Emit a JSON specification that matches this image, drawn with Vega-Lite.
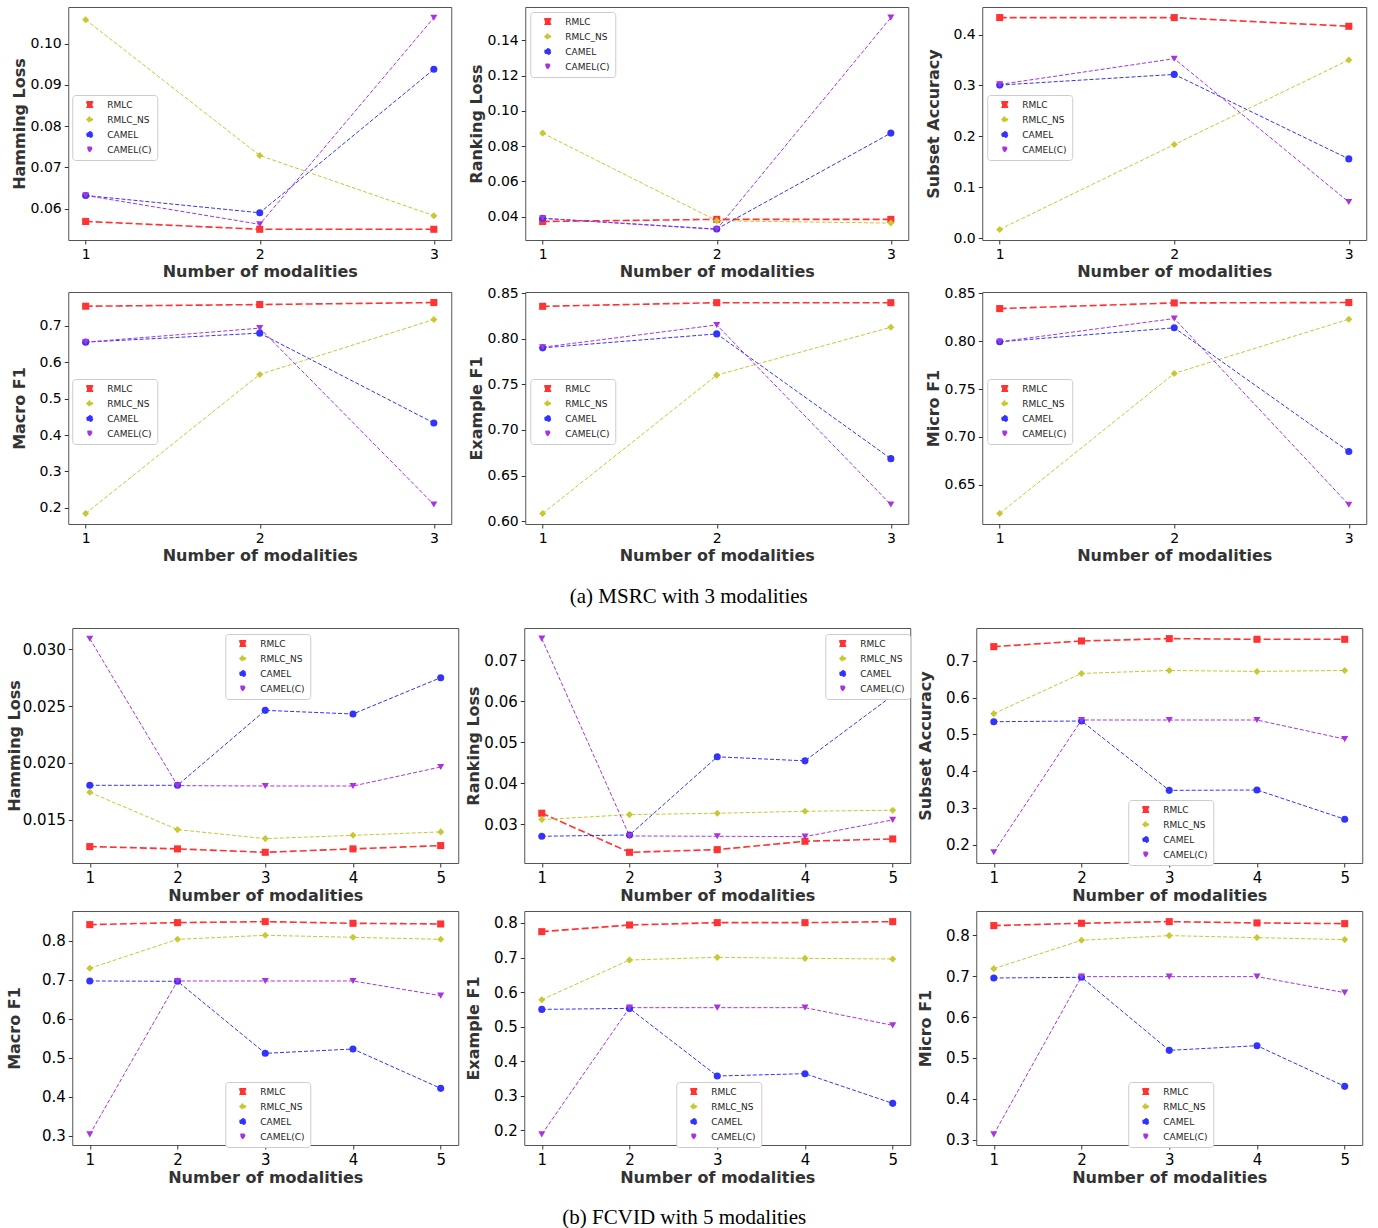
{
"$schema":"https://vega.github.io/schema/vega-lite/v6.json",
"padding":{"left":5,"top":6,"right":5,"bottom":0},
"datasets":{
"msrc":[
{"k":"HL","s":"RMLC","m":1,"v":0.0569},{"k":"HL","s":"RMLC","m":2,"v":0.0550},{"k":"HL","s":"RMLC","m":3,"v":0.0550},
{"k":"HL","s":"RMLC_NS","m":1,"v":0.1058},{"k":"HL","s":"RMLC_NS","m":2,"v":0.0729},{"k":"HL","s":"RMLC_NS","m":3,"v":0.0583},
{"k":"HL","s":"CAMEL","m":1,"v":0.0632},{"k":"HL","s":"CAMEL","m":2,"v":0.0590},{"k":"HL","s":"CAMEL","m":3,"v":0.0938},
{"k":"HL","s":"CAMEL(C)","m":1,"v":0.0632},{"k":"HL","s":"CAMEL(C)","m":2,"v":0.0562},{"k":"HL","s":"CAMEL(C)","m":3,"v":0.1063},
{"k":"RL","s":"RMLC","m":1,"v":0.0373},{"k":"RL","s":"RMLC","m":2,"v":0.0385},{"k":"RL","s":"RMLC","m":3,"v":0.0385},
{"k":"RL","s":"RMLC_NS","m":1,"v":0.0874},{"k":"RL","s":"RMLC_NS","m":2,"v":0.0377},{"k":"RL","s":"RMLC_NS","m":3,"v":0.0364},
{"k":"RL","s":"CAMEL","m":1,"v":0.0391},{"k":"RL","s":"CAMEL","m":2,"v":0.0330},{"k":"RL","s":"CAMEL","m":3,"v":0.0874},
{"k":"RL","s":"CAMEL(C)","m":1,"v":0.0391},{"k":"RL","s":"CAMEL(C)","m":2,"v":0.0328},{"k":"RL","s":"CAMEL(C)","m":3,"v":0.1529},
{"k":"SA","s":"RMLC","m":1,"v":0.4335},{"k":"SA","s":"RMLC","m":2,"v":0.4335},{"k":"SA","s":"RMLC","m":3,"v":0.4164},
{"k":"SA","s":"RMLC_NS","m":1,"v":0.0171},{"k":"SA","s":"RMLC_NS","m":2,"v":0.1839},{"k":"SA","s":"RMLC_NS","m":3,"v":0.3501},
{"k":"SA","s":"CAMEL","m":1,"v":0.3008},{"k":"SA","s":"CAMEL","m":2,"v":0.3218},{"k":"SA","s":"CAMEL","m":3,"v":0.1557},
{"k":"SA","s":"CAMEL(C)","m":1,"v":0.3021},{"k":"SA","s":"CAMEL(C)","m":2,"v":0.3527},{"k":"SA","s":"CAMEL(C)","m":3,"v":0.0709},
{"k":"MaF","s":"RMLC","m":1,"v":0.7539},{"k":"MaF","s":"RMLC","m":2,"v":0.7585},{"k":"MaF","s":"RMLC","m":3,"v":0.7640},
{"k":"MaF","s":"RMLC_NS","m":1,"v":0.1845},{"k":"MaF","s":"RMLC_NS","m":2,"v":0.5665},{"k":"MaF","s":"RMLC_NS","m":3,"v":0.7174},
{"k":"MaF","s":"CAMEL","m":1,"v":0.6552},{"k":"MaF","s":"CAMEL","m":2,"v":0.6799},{"k":"MaF","s":"CAMEL","m":3,"v":0.4331},
{"k":"MaF","s":"CAMEL(C)","m":1,"v":0.6552},{"k":"MaF","s":"CAMEL(C)","m":2,"v":0.6936},{"k":"MaF","s":"CAMEL(C)","m":3,"v":0.2091},
{"k":"ExF","s":"RMLC","m":1,"v":0.8354},{"k":"ExF","s":"RMLC","m":2,"v":0.8394},{"k":"ExF","s":"RMLC","m":3,"v":0.8394},
{"k":"ExF","s":"RMLC_NS","m":1,"v":0.6084},{"k":"ExF","s":"RMLC_NS","m":2,"v":0.7600},{"k":"ExF","s":"RMLC_NS","m":3,"v":0.8125},
{"k":"ExF","s":"CAMEL","m":1,"v":0.7899},{"k":"ExF","s":"CAMEL","m":2,"v":0.8052},{"k":"ExF","s":"CAMEL","m":3,"v":0.6685},
{"k":"ExF","s":"CAMEL(C)","m":1,"v":0.7906},{"k":"ExF","s":"CAMEL(C)","m":2,"v":0.8150},{"k":"ExF","s":"CAMEL(C)","m":3,"v":0.6182},
{"k":"MiF","s":"RMLC","m":1,"v":0.8340},{"k":"MiF","s":"RMLC","m":2,"v":0.8399},{"k":"MiF","s":"RMLC","m":3,"v":0.8403},
{"k":"MiF","s":"RMLC_NS","m":1,"v":0.6201},{"k":"MiF","s":"RMLC_NS","m":2,"v":0.7663},{"k":"MiF","s":"RMLC_NS","m":3,"v":0.8229},
{"k":"MiF","s":"CAMEL","m":1,"v":0.7993},{"k":"MiF","s":"CAMEL","m":2,"v":0.8139},{"k":"MiF","s":"CAMEL","m":3,"v":0.6847},
{"k":"MiF","s":"CAMEL(C)","m":1,"v":0.7993},{"k":"MiF","s":"CAMEL(C)","m":2,"v":0.8236},{"k":"MiF","s":"CAMEL(C)","m":3,"v":0.6292}
],
"fcvid":[
{"k":"HL","s":"RMLC","m":1,"v":0.01266},{"k":"HL","s":"RMLC","m":2,"v":0.01246},{"k":"HL","s":"RMLC","m":3,"v":0.01216},{"k":"HL","s":"RMLC","m":4,"v":0.01246},{"k":"HL","s":"RMLC","m":5,"v":0.01275},
{"k":"HL","s":"RMLC_NS","m":1,"v":0.01743},{"k":"HL","s":"RMLC_NS","m":2,"v":0.01415},{"k":"HL","s":"RMLC_NS","m":3,"v":0.01336},{"k":"HL","s":"RMLC_NS","m":4,"v":0.01365},{"k":"HL","s":"RMLC_NS","m":5,"v":0.01395},
{"k":"HL","s":"CAMEL","m":1,"v":0.01804},{"k":"HL","s":"CAMEL","m":2,"v":0.01804},{"k":"HL","s":"CAMEL","m":3,"v":0.02462},{"k":"HL","s":"CAMEL","m":4,"v":0.02430},{"k":"HL","s":"CAMEL","m":5,"v":0.02749},
{"k":"HL","s":"CAMEL(C)","m":1,"v":0.03091},{"k":"HL","s":"CAMEL(C)","m":2,"v":0.01801},{"k":"HL","s":"CAMEL(C)","m":3,"v":0.01798},{"k":"HL","s":"CAMEL(C)","m":4,"v":0.01798},{"k":"HL","s":"CAMEL(C)","m":5,"v":0.01965},
{"k":"RL","s":"RMLC","m":1,"v":0.0327},{"k":"RL","s":"RMLC","m":2,"v":0.02316},{"k":"RL","s":"RMLC","m":3,"v":0.02381},{"k":"RL","s":"RMLC","m":4,"v":0.02585},{"k":"RL","s":"RMLC","m":5,"v":0.02642},
{"k":"RL","s":"RMLC_NS","m":1,"v":0.03114},{"k":"RL","s":"RMLC_NS","m":2,"v":0.03236},{"k":"RL","s":"RMLC_NS","m":3,"v":0.03269},{"k":"RL","s":"RMLC_NS","m":4,"v":0.03318},{"k":"RL","s":"RMLC_NS","m":5,"v":0.03342},
{"k":"RL","s":"CAMEL","m":1,"v":0.02707},{"k":"RL","s":"CAMEL","m":2,"v":0.02739},{"k":"RL","s":"CAMEL","m":3,"v":0.04646},{"k":"RL","s":"CAMEL","m":4,"v":0.04548},{"k":"RL","s":"CAMEL","m":5,"v":0.06145},
{"k":"RL","s":"CAMEL(C)","m":1,"v":0.0753},{"k":"RL","s":"CAMEL(C)","m":2,"v":0.02715},{"k":"RL","s":"CAMEL(C)","m":3,"v":0.02707},{"k":"RL","s":"CAMEL(C)","m":4,"v":0.02699},{"k":"RL","s":"CAMEL(C)","m":5,"v":0.03106},
{"k":"SA","s":"RMLC","m":1,"v":0.7383},{"k":"SA","s":"RMLC","m":2,"v":0.7537},{"k":"SA","s":"RMLC","m":3,"v":0.7601},{"k":"SA","s":"RMLC","m":4,"v":0.7583},{"k":"SA","s":"RMLC","m":5,"v":0.7583},
{"k":"SA","s":"RMLC_NS","m":1,"v":0.5561},{"k":"SA","s":"RMLC_NS","m":2,"v":0.6654},{"k":"SA","s":"RMLC_NS","m":3,"v":0.6736},{"k":"SA","s":"RMLC_NS","m":4,"v":0.6709},{"k":"SA","s":"RMLC_NS","m":5,"v":0.6736},
{"k":"SA","s":"CAMEL","m":1,"v":0.5342},{"k":"SA","s":"CAMEL","m":2,"v":0.5361},{"k":"SA","s":"CAMEL","m":3,"v":0.3475},{"k":"SA","s":"CAMEL","m":4,"v":0.3485},{"k":"SA","s":"CAMEL","m":5,"v":0.2692},
{"k":"SA","s":"CAMEL(C)","m":1,"v":0.1791},{"k":"SA","s":"CAMEL(C)","m":2,"v":0.5388},{"k":"SA","s":"CAMEL(C)","m":3,"v":0.5388},{"k":"SA","s":"CAMEL(C)","m":4,"v":0.5388},{"k":"SA","s":"CAMEL(C)","m":5,"v":0.4869},
{"k":"MaF","s":"RMLC","m":1,"v":0.842},{"k":"MaF","s":"RMLC","m":2,"v":0.8471},{"k":"MaF","s":"RMLC","m":3,"v":0.8497},{"k":"MaF","s":"RMLC","m":4,"v":0.8454},{"k":"MaF","s":"RMLC","m":5,"v":0.8437},
{"k":"MaF","s":"RMLC_NS","m":1,"v":0.7298},{"k":"MaF","s":"RMLC_NS","m":2,"v":0.8043},{"k":"MaF","s":"RMLC_NS","m":3,"v":0.8146},{"k":"MaF","s":"RMLC_NS","m":4,"v":0.8094},{"k":"MaF","s":"RMLC_NS","m":5,"v":0.8043},
{"k":"MaF","s":"CAMEL","m":1,"v":0.6973},{"k":"MaF","s":"CAMEL","m":2,"v":0.6964},{"k":"MaF","s":"CAMEL","m":3,"v":0.5115},{"k":"MaF","s":"CAMEL","m":4,"v":0.5226},{"k":"MaF","s":"CAMEL","m":5,"v":0.4216},
{"k":"MaF","s":"CAMEL(C)","m":1,"v":0.3034},{"k":"MaF","s":"CAMEL(C)","m":2,"v":0.6973},{"k":"MaF","s":"CAMEL(C)","m":3,"v":0.6973},{"k":"MaF","s":"CAMEL(C)","m":4,"v":0.6973},{"k":"MaF","s":"CAMEL(C)","m":5,"v":0.6596},
{"k":"ExF","s":"RMLC","m":1,"v":0.7749},{"k":"ExF","s":"RMLC","m":2,"v":0.7942},{"k":"ExF","s":"RMLC","m":3,"v":0.801},{"k":"ExF","s":"RMLC","m":4,"v":0.801},{"k":"ExF","s":"RMLC","m":5,"v":0.8039},
{"k":"ExF","s":"RMLC_NS","m":1,"v":0.5781},{"k":"ExF","s":"RMLC_NS","m":2,"v":0.6929},{"k":"ExF","s":"RMLC_NS","m":3,"v":0.7006},{"k":"ExF","s":"RMLC_NS","m":4,"v":0.6977},{"k":"ExF","s":"RMLC_NS","m":5,"v":0.6958},
{"k":"ExF","s":"CAMEL","m":1,"v":0.55},{"k":"ExF","s":"CAMEL","m":2,"v":0.5529},{"k":"ExF","s":"CAMEL","m":3,"v":0.3572},{"k":"ExF","s":"CAMEL","m":4,"v":0.364},{"k":"ExF","s":"CAMEL","m":5,"v":0.2781},
{"k":"ExF","s":"CAMEL(C)","m":1,"v":0.1884},{"k":"ExF","s":"CAMEL(C)","m":2,"v":0.555},{"k":"ExF","s":"CAMEL(C)","m":3,"v":0.555},{"k":"ExF","s":"CAMEL(C)","m":4,"v":0.555},{"k":"ExF","s":"CAMEL(C)","m":5,"v":0.5039},
{"k":"MiF","s":"RMLC","m":1,"v":0.8237},{"k":"MiF","s":"RMLC","m":2,"v":0.8294},{"k":"MiF","s":"RMLC","m":3,"v":0.8334},{"k":"MiF","s":"RMLC","m":4,"v":0.8302},{"k":"MiF","s":"RMLC","m":5,"v":0.8285},
{"k":"MiF","s":"RMLC_NS","m":1,"v":0.7184},{"k":"MiF","s":"RMLC_NS","m":2,"v":0.7878},{"k":"MiF","s":"RMLC_NS","m":3,"v":0.7992},{"k":"MiF","s":"RMLC_NS","m":4,"v":0.7943},{"k":"MiF","s":"RMLC_NS","m":5,"v":0.7894},
{"k":"MiF","s":"CAMEL","m":1,"v":0.6956},{"k":"MiF","s":"CAMEL","m":2,"v":0.6972},{"k":"MiF","s":"CAMEL","m":3,"v":0.5186},{"k":"MiF","s":"CAMEL","m":4,"v":0.53},{"k":"MiF","s":"CAMEL","m":5,"v":0.4305},
{"k":"MiF","s":"CAMEL(C)","m":1,"v":0.3131},{"k":"MiF","s":"CAMEL(C)","m":2,"v":0.6989},{"k":"MiF","s":"CAMEL(C)","m":3,"v":0.6989},{"k":"MiF","s":"CAMEL(C)","m":4,"v":0.6989},{"k":"MiF","s":"CAMEL(C)","m":5,"v":0.6597}
]
},
"spacing":20,
"center":true,
"resolve":{"scale":{"color":"independent","shape":"independent","strokeDash":"independent"},"legend":{"color":"independent","shape":"independent","strokeDash":"independent"}},
"vconcat":[
{
"title":{"text":"(a)  MSRC with 3 modalities","orient":"bottom","anchor":"middle","font":"Liberation Serif","fontSize":21,"fontWeight":"normal","color":"#000","offset":22},
"spacing":5,
"resolve":{"scale":{"color":"independent","shape":"independent","strokeDash":"independent"},"legend":{"color":"independent","shape":"independent","strokeDash":"independent"}},
"vconcat":[
{"spacing":15,
"resolve":{"scale":{"color":"independent","shape":"independent","strokeDash":"independent"},"legend":{"color":"independent","shape":"independent","strokeDash":"independent"}},
"hconcat":[
{"width":383,"height":233,"data":{"name":"msrc"},"transform":[{"filter":"datum.k === 'HL'"}],
"encoding":{"x":{"field":"m","type":"quantitative","scale":{"domain":[0.9,3.1],"nice":false,"zero":false},"axis":{"values":[1,2,3],"format":"d","title":"Number of modalities","labelFontSize":14}},
"y":{"field":"v","type":"quantitative","scale":{"domain":[0.0524,0.1089],"nice":false,"zero":false},"axis":{"values":[0.06,0.07,0.08,0.09,0.10],"format":".2f","title":"Hamming Loss","labelFontSize":14,"minExtent":38,"maxExtent":38}},
"color":{"field":"s","type":"nominal","scale":{"domain":["RMLC","RMLC_NS","CAMEL","CAMEL(C)"],"range":["#ff3333","#c8c832","#3333ff","#a933dc"]},"legend":{"title":null,"legendX":4,"legendY":88}}},
"layer":[{"mark":{"type":"line"},"encoding":{"strokeDash":{"field":"s","type":"nominal","scale":{"domain":["RMLC","RMLC_NS","CAMEL","CAMEL(C)"],"range":[[7,3],[4,2],[4,2],[4,2]]},"legend":null},"strokeWidth":{"condition":{"test":"datum.s === 'RMLC'","value":1.6},"value":1}}},
{"mark":{"type":"point","filled":true,"size":50,"opacity":1},"encoding":{"shape":{"field":"s","type":"nominal","scale":{"domain":["RMLC","RMLC_NS","CAMEL","CAMEL(C)"],"range":["square","diamond","circle","triangle-down"]},"legend":{"title":null,"legendX":4,"legendY":88}}}}]},
{"width":383,"height":233,"data":{"name":"msrc"},"transform":[{"filter":"datum.k === 'RL'"}],
"encoding":{"x":{"field":"m","type":"quantitative","scale":{"domain":[0.9,3.1],"nice":false,"zero":false},"axis":{"values":[1,2,3],"format":"d","title":"Number of modalities","labelFontSize":14}},
"y":{"field":"v","type":"quantitative","scale":{"domain":[0.0268,0.1589],"nice":false,"zero":false},"axis":{"values":[0.04,0.06,0.08,0.10,0.12,0.14],"format":".2f","title":"Ranking Loss","labelFontSize":14,"minExtent":38,"maxExtent":38}},
"color":{"field":"s","type":"nominal","scale":{"domain":["RMLC","RMLC_NS","CAMEL","CAMEL(C)"],"range":["#ff3333","#c8c832","#3333ff","#a933dc"]},"legend":{"title":null,"legendX":5,"legendY":5}}},
"layer":[{"mark":{"type":"line"},"encoding":{"strokeDash":{"field":"s","type":"nominal","scale":{"domain":["RMLC","RMLC_NS","CAMEL","CAMEL(C)"],"range":[[7,3],[4,2],[4,2],[4,2]]},"legend":null},"strokeWidth":{"condition":{"test":"datum.s === 'RMLC'","value":1.6},"value":1}}},
{"mark":{"type":"point","filled":true,"size":50,"opacity":1},"encoding":{"shape":{"field":"s","type":"nominal","scale":{"domain":["RMLC","RMLC_NS","CAMEL","CAMEL(C)"],"range":["square","diamond","circle","triangle-down"]},"legend":{"title":null,"legendX":5,"legendY":5}}}}]},
{"width":384,"height":233,"data":{"name":"msrc"},"transform":[{"filter":"datum.k === 'SA'"}],
"encoding":{"x":{"field":"m","type":"quantitative","scale":{"domain":[0.9,3.1],"nice":false,"zero":false},"axis":{"values":[1,2,3],"format":"d","title":"Number of modalities","labelFontSize":14}},
"y":{"field":"v","type":"quantitative","scale":{"domain":[-0.0037,0.4543],"nice":false,"zero":false},"axis":{"values":[0,0.1,0.2,0.3,0.4],"format":".1f","title":"Subset Accuracy","labelFontSize":14,"minExtent":38,"maxExtent":38}},
"color":{"field":"s","type":"nominal","scale":{"domain":["RMLC","RMLC_NS","CAMEL","CAMEL(C)"],"range":["#ff3333","#c8c832","#3333ff","#a933dc"]},"legend":{"title":null,"legendX":5,"legendY":88}}},
"layer":[{"mark":{"type":"line"},"encoding":{"strokeDash":{"field":"s","type":"nominal","scale":{"domain":["RMLC","RMLC_NS","CAMEL","CAMEL(C)"],"range":[[7,3],[4,2],[4,2],[4,2]]},"legend":null},"strokeWidth":{"condition":{"test":"datum.s === 'RMLC'","value":1.6},"value":1}}},
{"mark":{"type":"point","filled":true,"size":50,"opacity":1},"encoding":{"shape":{"field":"s","type":"nominal","scale":{"domain":["RMLC","RMLC_NS","CAMEL","CAMEL(C)"],"range":["square","diamond","circle","triangle-down"]},"legend":{"title":null,"legendX":5,"legendY":88}}}}]}
]},
{"spacing":15,
"resolve":{"scale":{"color":"independent","shape":"independent","strokeDash":"independent"},"legend":{"color":"independent","shape":"independent","strokeDash":"independent"}},
"hconcat":[
{"width":383,"height":232,"data":{"name":"msrc"},"transform":[{"filter":"datum.k === 'MaF'"}],
"encoding":{"x":{"field":"m","type":"quantitative","scale":{"domain":[0.9,3.1],"nice":false,"zero":false},"axis":{"values":[1,2,3],"format":"d","title":"Number of modalities","labelFontSize":14}},
"y":{"field":"v","type":"quantitative","scale":{"domain":[0.1555,0.793],"nice":false,"zero":false},"axis":{"values":[0.2,0.3,0.4,0.5,0.6,0.7],"format":".1f","title":"Macro F1","labelFontSize":14,"minExtent":38,"maxExtent":38}},
"color":{"field":"s","type":"nominal","scale":{"domain":["RMLC","RMLC_NS","CAMEL","CAMEL(C)"],"range":["#ff3333","#c8c832","#3333ff","#a933dc"]},"legend":{"title":null,"legendX":4,"legendY":87}}},
"layer":[{"mark":{"type":"line"},"encoding":{"strokeDash":{"field":"s","type":"nominal","scale":{"domain":["RMLC","RMLC_NS","CAMEL","CAMEL(C)"],"range":[[7,3],[4,2],[4,2],[4,2]]},"legend":null},"strokeWidth":{"condition":{"test":"datum.s === 'RMLC'","value":1.6},"value":1}}},
{"mark":{"type":"point","filled":true,"size":50,"opacity":1},"encoding":{"shape":{"field":"s","type":"nominal","scale":{"domain":["RMLC","RMLC_NS","CAMEL","CAMEL(C)"],"range":["square","diamond","circle","triangle-down"]},"legend":{"title":null,"legendX":4,"legendY":87}}}}]},
{"width":383,"height":232,"data":{"name":"msrc"},"transform":[{"filter":"datum.k === 'ExF'"}],
"encoding":{"x":{"field":"m","type":"quantitative","scale":{"domain":[0.9,3.1],"nice":false,"zero":false},"axis":{"values":[1,2,3],"format":"d","title":"Number of modalities","labelFontSize":14}},
"y":{"field":"v","type":"quantitative","scale":{"domain":[0.5969,0.8511],"nice":false,"zero":false},"axis":{"values":[0.60,0.65,0.70,0.75,0.80,0.85],"format":".2f","title":"Example F1","labelFontSize":14,"minExtent":38,"maxExtent":38}},
"color":{"field":"s","type":"nominal","scale":{"domain":["RMLC","RMLC_NS","CAMEL","CAMEL(C)"],"range":["#ff3333","#c8c832","#3333ff","#a933dc"]},"legend":{"title":null,"legendX":5,"legendY":87}}},
"layer":[{"mark":{"type":"line"},"encoding":{"strokeDash":{"field":"s","type":"nominal","scale":{"domain":["RMLC","RMLC_NS","CAMEL","CAMEL(C)"],"range":[[7,3],[4,2],[4,2],[4,2]]},"legend":null},"strokeWidth":{"condition":{"test":"datum.s === 'RMLC'","value":1.6},"value":1}}},
{"mark":{"type":"point","filled":true,"size":50,"opacity":1},"encoding":{"shape":{"field":"s","type":"nominal","scale":{"domain":["RMLC","RMLC_NS","CAMEL","CAMEL(C)"],"range":["square","diamond","circle","triangle-down"]},"legend":{"title":null,"legendX":5,"legendY":87}}}}]},
{"width":384,"height":232,"data":{"name":"msrc"},"transform":[{"filter":"datum.k === 'MiF'"}],
"encoding":{"x":{"field":"m","type":"quantitative","scale":{"domain":[0.9,3.1],"nice":false,"zero":false},"axis":{"values":[1,2,3],"format":"d","title":"Number of modalities","labelFontSize":14}},
"y":{"field":"v","type":"quantitative","scale":{"domain":[0.6091,0.8513],"nice":false,"zero":false},"axis":{"values":[0.65,0.70,0.75,0.80,0.85],"format":".2f","title":"Micro F1","labelFontSize":14,"minExtent":38,"maxExtent":38}},
"color":{"field":"s","type":"nominal","scale":{"domain":["RMLC","RMLC_NS","CAMEL","CAMEL(C)"],"range":["#ff3333","#c8c832","#3333ff","#a933dc"]},"legend":{"title":null,"legendX":5,"legendY":87}}},
"layer":[{"mark":{"type":"line"},"encoding":{"strokeDash":{"field":"s","type":"nominal","scale":{"domain":["RMLC","RMLC_NS","CAMEL","CAMEL(C)"],"range":[[7,3],[4,2],[4,2],[4,2]]},"legend":null},"strokeWidth":{"condition":{"test":"datum.s === 'RMLC'","value":1.6},"value":1}}},
{"mark":{"type":"point","filled":true,"size":50,"opacity":1},"encoding":{"shape":{"field":"s","type":"nominal","scale":{"domain":["RMLC","RMLC_NS","CAMEL","CAMEL(C)"],"range":["square","diamond","circle","triangle-down"]},"legend":{"title":null,"legendX":5,"legendY":87}}}}]}
]}
]},
{
"title":{"text":"(b)  FCVID with 5 modalities","orient":"bottom","anchor":"middle","font":"Liberation Serif","fontSize":21,"fontWeight":"normal","color":"#000","offset":21},
"spacing":6,
"resolve":{"scale":{"color":"independent","shape":"independent","strokeDash":"independent"},"legend":{"color":"independent","shape":"independent","strokeDash":"independent"}},
"vconcat":[
{"spacing":5,
"resolve":{"scale":{"color":"independent","shape":"independent","strokeDash":"independent"},"legend":{"color":"independent","shape":"independent","strokeDash":"independent"}},
"hconcat":[
{"width":386,"height":235,"data":{"name":"fcvid"},"transform":[{"filter":"datum.k === 'HL'"}],
"encoding":{"x":{"field":"m","type":"quantitative","scale":{"domain":[0.8,5.2],"nice":false,"zero":false},"axis":{"values":[1,2,3,4,5],"format":"d","title":"Number of modalities","labelFontSize":15}},
"y":{"field":"v","type":"quantitative","scale":{"domain":[0.01122,0.03185],"nice":false,"zero":false},"axis":{"values":[0.015,0.020,0.025,0.030],"format":".3f","title":"Hamming Loss","labelFontSize":15,"minExtent":47,"maxExtent":47}},
"color":{"field":"s","type":"nominal","scale":{"domain":["RMLC","RMLC_NS","CAMEL","CAMEL(C)"],"range":["#ff3333","#c8c832","#3333ff","#a933dc"]},"legend":{"title":null,"legendX":153,"legendY":6}}},
"layer":[{"mark":{"type":"line"},"encoding":{"strokeDash":{"field":"s","type":"nominal","scale":{"domain":["RMLC","RMLC_NS","CAMEL","CAMEL(C)"],"range":[[7,3],[4,2],[4,2],[4,2]]},"legend":null},"strokeWidth":{"condition":{"test":"datum.s === 'RMLC'","value":1.6},"value":1}}},
{"mark":{"type":"point","filled":true,"size":50,"opacity":1},"encoding":{"shape":{"field":"s","type":"nominal","scale":{"domain":["RMLC","RMLC_NS","CAMEL","CAMEL(C)"],"range":["square","diamond","circle","triangle-down"]},"legend":{"title":null,"legendX":153,"legendY":6}}}}]},
{"width":386,"height":235,"data":{"name":"fcvid"},"transform":[{"filter":"datum.k === 'RL'"}],
"encoding":{"x":{"field":"m","type":"quantitative","scale":{"domain":[0.8,5.2],"nice":false,"zero":false},"axis":{"values":[1,2,3,4,5],"format":"d","title":"Number of modalities","labelFontSize":15}},
"y":{"field":"v","type":"quantitative","scale":{"domain":[0.02055,0.0779],"nice":false,"zero":false},"axis":{"values":[0.03,0.04,0.05,0.06,0.07],"format":".2f","title":"Ranking Loss","labelFontSize":15,"minExtent":40,"maxExtent":40}},
"color":{"field":"s","type":"nominal","scale":{"domain":["RMLC","RMLC_NS","CAMEL","CAMEL(C)"],"range":["#ff3333","#c8c832","#3333ff","#a933dc"]},"legend":{"title":null,"legendX":301,"legendY":6}}},
"layer":[{"mark":{"type":"line"},"encoding":{"strokeDash":{"field":"s","type":"nominal","scale":{"domain":["RMLC","RMLC_NS","CAMEL","CAMEL(C)"],"range":[[7,3],[4,2],[4,2],[4,2]]},"legend":null},"strokeWidth":{"condition":{"test":"datum.s === 'RMLC'","value":1.6},"value":1}}},
{"mark":{"type":"point","filled":true,"size":50,"opacity":1},"encoding":{"shape":{"field":"s","type":"nominal","scale":{"domain":["RMLC","RMLC_NS","CAMEL","CAMEL(C)"],"range":["square","diamond","circle","triangle-down"]},"legend":{"title":null,"legendX":301,"legendY":6}}}}]},
{"width":386,"height":235,"data":{"name":"fcvid"},"transform":[{"filter":"datum.k === 'SA'"}],
"encoding":{"x":{"field":"m","type":"quantitative","scale":{"domain":[0.8,5.2],"nice":false,"zero":false},"axis":{"values":[1,2,3,4,5],"format":"d","title":"Number of modalities","labelFontSize":15}},
"y":{"field":"v","type":"quantitative","scale":{"domain":[0.15,0.789],"nice":false,"zero":false},"axis":{"values":[0.2,0.3,0.4,0.5,0.6,0.7],"format":".1f","title":"Subset Accuracy","labelFontSize":15,"minExtent":40,"maxExtent":40}},
"color":{"field":"s","type":"nominal","scale":{"domain":["RMLC","RMLC_NS","CAMEL","CAMEL(C)"],"range":["#ff3333","#c8c832","#3333ff","#a933dc"]},"legend":{"title":null,"legendX":152,"legendY":172}}},
"layer":[{"mark":{"type":"line"},"encoding":{"strokeDash":{"field":"s","type":"nominal","scale":{"domain":["RMLC","RMLC_NS","CAMEL","CAMEL(C)"],"range":[[7,3],[4,2],[4,2],[4,2]]},"legend":null},"strokeWidth":{"condition":{"test":"datum.s === 'RMLC'","value":1.6},"value":1}}},
{"mark":{"type":"point","filled":true,"size":50,"opacity":1},"encoding":{"shape":{"field":"s","type":"nominal","scale":{"domain":["RMLC","RMLC_NS","CAMEL","CAMEL(C)"],"range":["square","diamond","circle","triangle-down"]},"legend":{"title":null,"legendX":152,"legendY":172}}}}]}
]},
{"spacing":5,
"resolve":{"scale":{"color":"independent","shape":"independent","strokeDash":"independent"},"legend":{"color":"independent","shape":"independent","strokeDash":"independent"}},
"hconcat":[
{"width":386,"height":234,"data":{"name":"fcvid"},"transform":[{"filter":"datum.k === 'MaF'"}],
"encoding":{"x":{"field":"m","type":"quantitative","scale":{"domain":[0.8,5.2],"nice":false,"zero":false},"axis":{"values":[1,2,3,4,5],"format":"d","title":"Number of modalities","labelFontSize":15}},
"y":{"field":"v","type":"quantitative","scale":{"domain":[0.2761,0.877],"nice":false,"zero":false},"axis":{"values":[0.3,0.4,0.5,0.6,0.7,0.8],"format":".1f","title":"Macro F1","labelFontSize":15,"minExtent":47,"maxExtent":47}},
"color":{"field":"s","type":"nominal","scale":{"domain":["RMLC","RMLC_NS","CAMEL","CAMEL(C)"],"range":["#ff3333","#c8c832","#3333ff","#a933dc"]},"legend":{"title":null,"legendX":153,"legendY":171}}},
"layer":[{"mark":{"type":"line"},"encoding":{"strokeDash":{"field":"s","type":"nominal","scale":{"domain":["RMLC","RMLC_NS","CAMEL","CAMEL(C)"],"range":[[7,3],[4,2],[4,2],[4,2]]},"legend":null},"strokeWidth":{"condition":{"test":"datum.s === 'RMLC'","value":1.6},"value":1}}},
{"mark":{"type":"point","filled":true,"size":50,"opacity":1},"encoding":{"shape":{"field":"s","type":"nominal","scale":{"domain":["RMLC","RMLC_NS","CAMEL","CAMEL(C)"],"range":["square","diamond","circle","triangle-down"]},"legend":{"title":null,"legendX":153,"legendY":171}}}}]},
{"width":386,"height":234,"data":{"name":"fcvid"},"transform":[{"filter":"datum.k === 'ExF'"}],
"encoding":{"x":{"field":"m","type":"quantitative","scale":{"domain":[0.8,5.2],"nice":false,"zero":false},"axis":{"values":[1,2,3,4,5],"format":"d","title":"Number of modalities","labelFontSize":15}},
"y":{"field":"v","type":"quantitative","scale":{"domain":[0.1576,0.8347],"nice":false,"zero":false},"axis":{"values":[0.2,0.3,0.4,0.5,0.6,0.7,0.8],"format":".1f","title":"Example F1","labelFontSize":15,"minExtent":40,"maxExtent":40}},
"color":{"field":"s","type":"nominal","scale":{"domain":["RMLC","RMLC_NS","CAMEL","CAMEL(C)"],"range":["#ff3333","#c8c832","#3333ff","#a933dc"]},"legend":{"title":null,"legendX":152,"legendY":171}}},
"layer":[{"mark":{"type":"line"},"encoding":{"strokeDash":{"field":"s","type":"nominal","scale":{"domain":["RMLC","RMLC_NS","CAMEL","CAMEL(C)"],"range":[[7,3],[4,2],[4,2],[4,2]]},"legend":null},"strokeWidth":{"condition":{"test":"datum.s === 'RMLC'","value":1.6},"value":1}}},
{"mark":{"type":"point","filled":true,"size":50,"opacity":1},"encoding":{"shape":{"field":"s","type":"nominal","scale":{"domain":["RMLC","RMLC_NS","CAMEL","CAMEL(C)"],"range":["square","diamond","circle","triangle-down"]},"legend":{"title":null,"legendX":152,"legendY":171}}}}]},
{"width":386,"height":234,"data":{"name":"fcvid"},"transform":[{"filter":"datum.k === 'MiF'"}],
"encoding":{"x":{"field":"m","type":"quantitative","scale":{"domain":[0.8,5.2],"nice":false,"zero":false},"axis":{"values":[1,2,3,4,5],"format":"d","title":"Number of modalities","labelFontSize":15}},
"y":{"field":"v","type":"quantitative","scale":{"domain":[0.2871,0.8594],"nice":false,"zero":false},"axis":{"values":[0.3,0.4,0.5,0.6,0.7,0.8],"format":".1f","title":"Micro F1","labelFontSize":15,"minExtent":40,"maxExtent":40}},
"color":{"field":"s","type":"nominal","scale":{"domain":["RMLC","RMLC_NS","CAMEL","CAMEL(C)"],"range":["#ff3333","#c8c832","#3333ff","#a933dc"]},"legend":{"title":null,"legendX":152,"legendY":171}}},
"layer":[{"mark":{"type":"line"},"encoding":{"strokeDash":{"field":"s","type":"nominal","scale":{"domain":["RMLC","RMLC_NS","CAMEL","CAMEL(C)"],"range":[[7,3],[4,2],[4,2],[4,2]]},"legend":null},"strokeWidth":{"condition":{"test":"datum.s === 'RMLC'","value":1.6},"value":1}}},
{"mark":{"type":"point","filled":true,"size":50,"opacity":1},"encoding":{"shape":{"field":"s","type":"nominal","scale":{"domain":["RMLC","RMLC_NS","CAMEL","CAMEL(C)"],"range":["square","diamond","circle","triangle-down"]},"legend":{"title":null,"legendX":152,"legendY":171}}}}]}
]}
]}
],
"config":{
"font":"DejaVu Sans",
"view":{"stroke":"#555","strokeWidth":1},
"axis":{"domain":false,"grid":false,"tickColor":"#333","tickSize":4,"labelPadding":3,"labelColor":"#000","labelFont":"DejaVu Sans","labelFlush":false,"labelOverlap":false,"labelBound":false,"titleFont":"DejaVu Sans","titleFontSize":16,"titleFontWeight":"bold","titleColor":"#333","titlePadding":3},
"axisX":{"titlePadding":2},
"legend":{"orient":"none","fillColor":"#fff","strokeColor":"#ccc","padding":5,"cornerRadius":3,"labelFont":"DejaVu Sans","labelFontSize":9,"labelColor":"#222","symbolSize":30,"rowPadding":5,"clipHeight":9,"labelOffset":13,"symbolOffset":8}
}
}
